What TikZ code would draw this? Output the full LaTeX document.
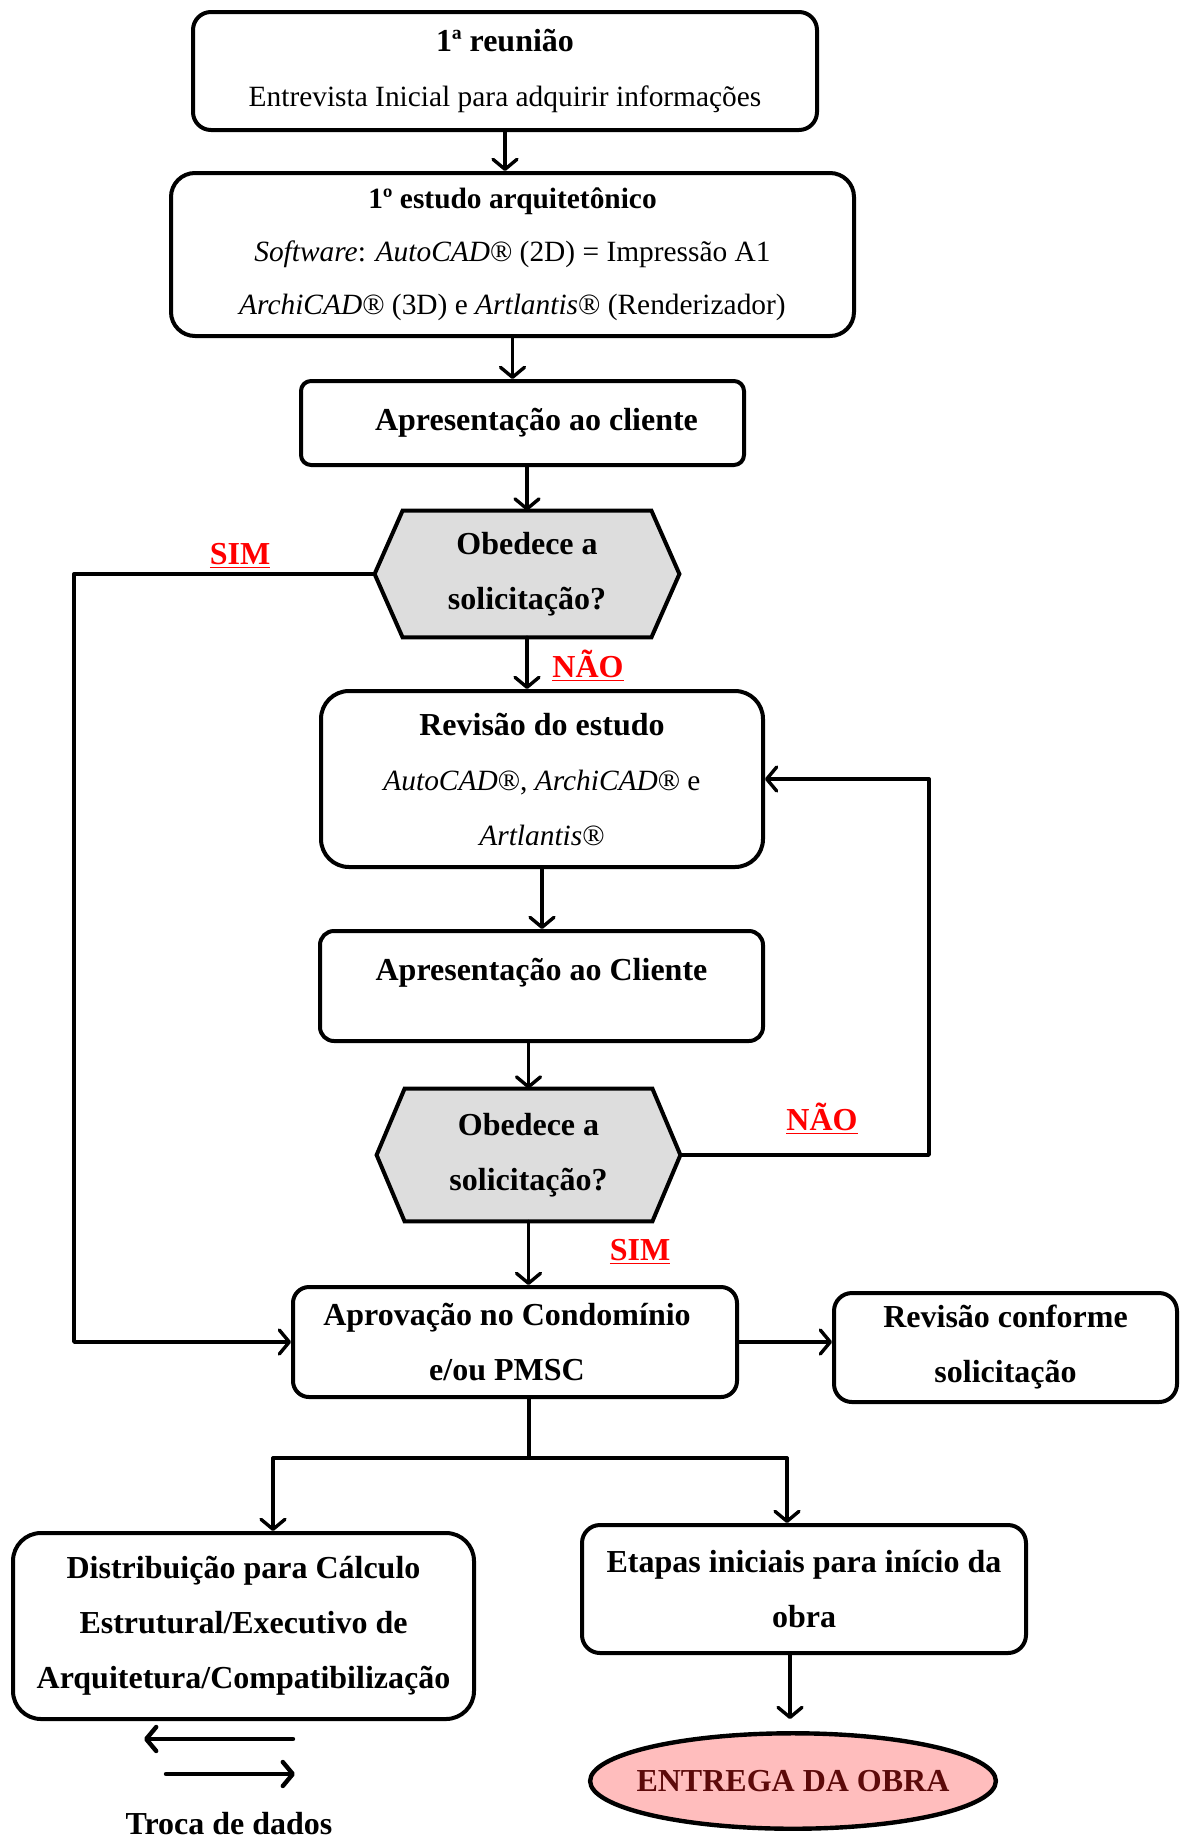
\documentclass[tikz,border=0pt]{standalone}
\usepackage{fontspec}
\setmainfont{Liberation Serif}
\usetikzlibrary{arrows.meta,shapes.geometric,backgrounds}
\definecolor{hexgray}{HTML}{DDDDDD}
\definecolor{entregafill}{HTML}{FFBDBD}
\definecolor{entregatext}{HTML}{5C0A0A}
\newcommand{\ftxt}{\fontsize{14.7pt}{26.5pt}\selectfont}
\newcommand{\fbig}{\fontsize{16pt}{27.5pt}\selectfont}
\tikzset{
	box/.style={draw,line width=2pt,rounded corners=9pt,align=center,font=\fbig\bfseries,inner sep=0pt},
	decision/.style={align=center,font=\fbig\bfseries,inner sep=0pt},
	hexline/.style={draw,fill=hexgray,line width=2pt,line join=miter},
	resp/.style={text=red,font=\fbig\bfseries},
	conn/.style={line width=1.7pt,->}
}
\begin{document}
\begin{tikzpicture}[x=0.5pt,y=-0.5pt,line join=round,line cap=round,>={Straight Barb[round,length=5pt,width=12pt]}]
	\useasboundingbox (0,0) rectangle (1184,1836);
	\node[box,minimum width=312pt,minimum height=59pt] (reuniao) at (505,71)
		{1ª reuni\~ao\\ {\ftxt\mdseries Entrevista Inicial para adquirir informações}};
	\node[box,font=\ftxt\bfseries,rounded corners=12pt,minimum width=341.5pt,minimum height=81.5pt] (estudo) at (512.5,254.5)
		{1º estudo arquitetônico\\ {\mdseries\textit{Software}: \textit{AutoCAD}® (2D) = Impressão A1}\\ {\mdseries\textit{ArchiCAD}® (3D) e \textit{Artlantis}® (Renderizador)}};
	\node[box,rounded corners=5pt,minimum width=221.5pt,minimum height=42pt] (apres1) at (522.5,423)
		{\hspace*{14pt}Apresentação ao cliente};
	\node[decision,minimum width=152pt,minimum height=63pt] (obedece1) at (527,574)
		{Obedece a\\ solicitação?};
	\node[box,rounded corners=14pt,minimum width=221pt,minimum height=88pt] (revisao) at (542,779)
		{Revisão do estudo\\ {\ftxt\mdseries\textit{AutoCAD}®, \textit{ArchiCAD}® e}\\ {\ftxt\mdseries\textit{Artlantis}®}};
	\node[box,rounded corners=7pt,minimum width=221.5pt,minimum height=55pt,text depth=16.5pt] (apres2) at (541.5,986)
		{Apresentação ao Cliente};
	\node[decision,minimum width=151.5pt,minimum height=66pt] (obedece2) at (528.5,1155)
		{Obedece a\\ solicitação?};
	\node[box,rounded corners=8pt,minimum width=222pt,minimum height=55pt] (aprov) at (515,1342)
		{Aprovação no Condomínio\hspace*{8pt}\\ e/ou PMSC\hspace*{8pt}};
	\node[box,minimum width=171.5pt,minimum height=54.5pt] (revconf) at (1005.5,1347.5)
		{Revisão conforme\\ solicitação};
	\node[box,rounded corners=14pt,minimum width=230.5pt,minimum height=93pt] (distrib) at (243.5,1626)
		{Distribuição para Cálculo\\ Estrutural/Executivo de\\ Arquitetura/Compatibilização};
	\node[box,minimum width=222pt,minimum height=64pt] (etapas) at (804,1589)
		{Etapas iniciais para início da\\ obra};
	\node[ellipse,draw,line width=2.2pt,fill=entregafill,text=entregatext,font=\fbig\bfseries,
		inner xsep=-6.5pt,inner ysep=11.5pt,minimum size=0pt] (entrega) at (793,1781) {ENTREGA DA OBRA};
	\node[font=\fbig\bfseries,anchor=base] (troca) at (229,1834) {Troca de dados};
	\begin{scope}[on background layer]
		\foreach \h in {obedece1,obedece2}
		\draw[hexline] (\h.west)--([xshift=14pt]\h.north west)--([xshift=-14pt]\h.north east)
			--(\h.east)--([xshift=-14pt]\h.south east)--([xshift=14pt]\h.south west)--cycle;
	\end{scope}
	\node[resp] (sim1) at (240,556) {\underline{SIM}};
	\node[resp] (nao1) at (588,666) {\underline{NÃO}};
	\node[resp] (nao2) at (822,1119) {\underline{NÃO}};
	\node[resp] (sim2) at (640,1252) {\underline{SIM}};
	\draw[conn] (reuniao.south)--(reuniao.south |- estudo.north);
	\draw[conn] (estudo.south)--(estudo.south |- apres1.north);
	\draw[conn] (obedece1.north |- apres1.south)--(obedece1.north);
	\draw[conn] (obedece1.south)--(obedece1.south |- revisao.north);
	\draw[conn] (revisao.south)--(revisao.south |- apres2.north);
	\draw[conn] (obedece2.north |- apres2.south)--(obedece2.north);
	\draw[conn] (obedece2.south)--(obedece2.south |- aprov.north);
	\draw[conn] (obedece1.west)-|(74,1342)--(aprov.west);
	\draw[conn] (obedece2.east)-|(929,779)--(revisao.east);
	\draw[conn] (aprov.east)--(aprov.east -| revconf.west);
	\coordinate (fork) at (529,1458);
	\coordinate (forkL) at (273,1458);
	\coordinate (forkR) at (787,1458);
	\draw[line width=1.7pt] (fork |- aprov.south)--(fork);
	\draw[line width=1.7pt] (forkL)--(forkR);
	\draw[conn] (forkL)--(forkL |- distrib.north);
	\draw[conn] (forkR)--(forkR |- etapas.north);
	\draw[conn,shorten >=6pt] (etapas.south -| 790,0)--(entrega.north -| 790,0);
	\coordinate (trocaA) at (293,1739);
	\coordinate (trocaB) at (144,1739);
	\coordinate (trocaC) at (166,1774);
	\coordinate (trocaD) at (295,1774);
	\draw[conn,line width=2.2pt] (trocaA)--(trocaB);
	\draw[conn,line width=2.2pt] (trocaC)--(trocaD);
\end{tikzpicture}
\end{document}
